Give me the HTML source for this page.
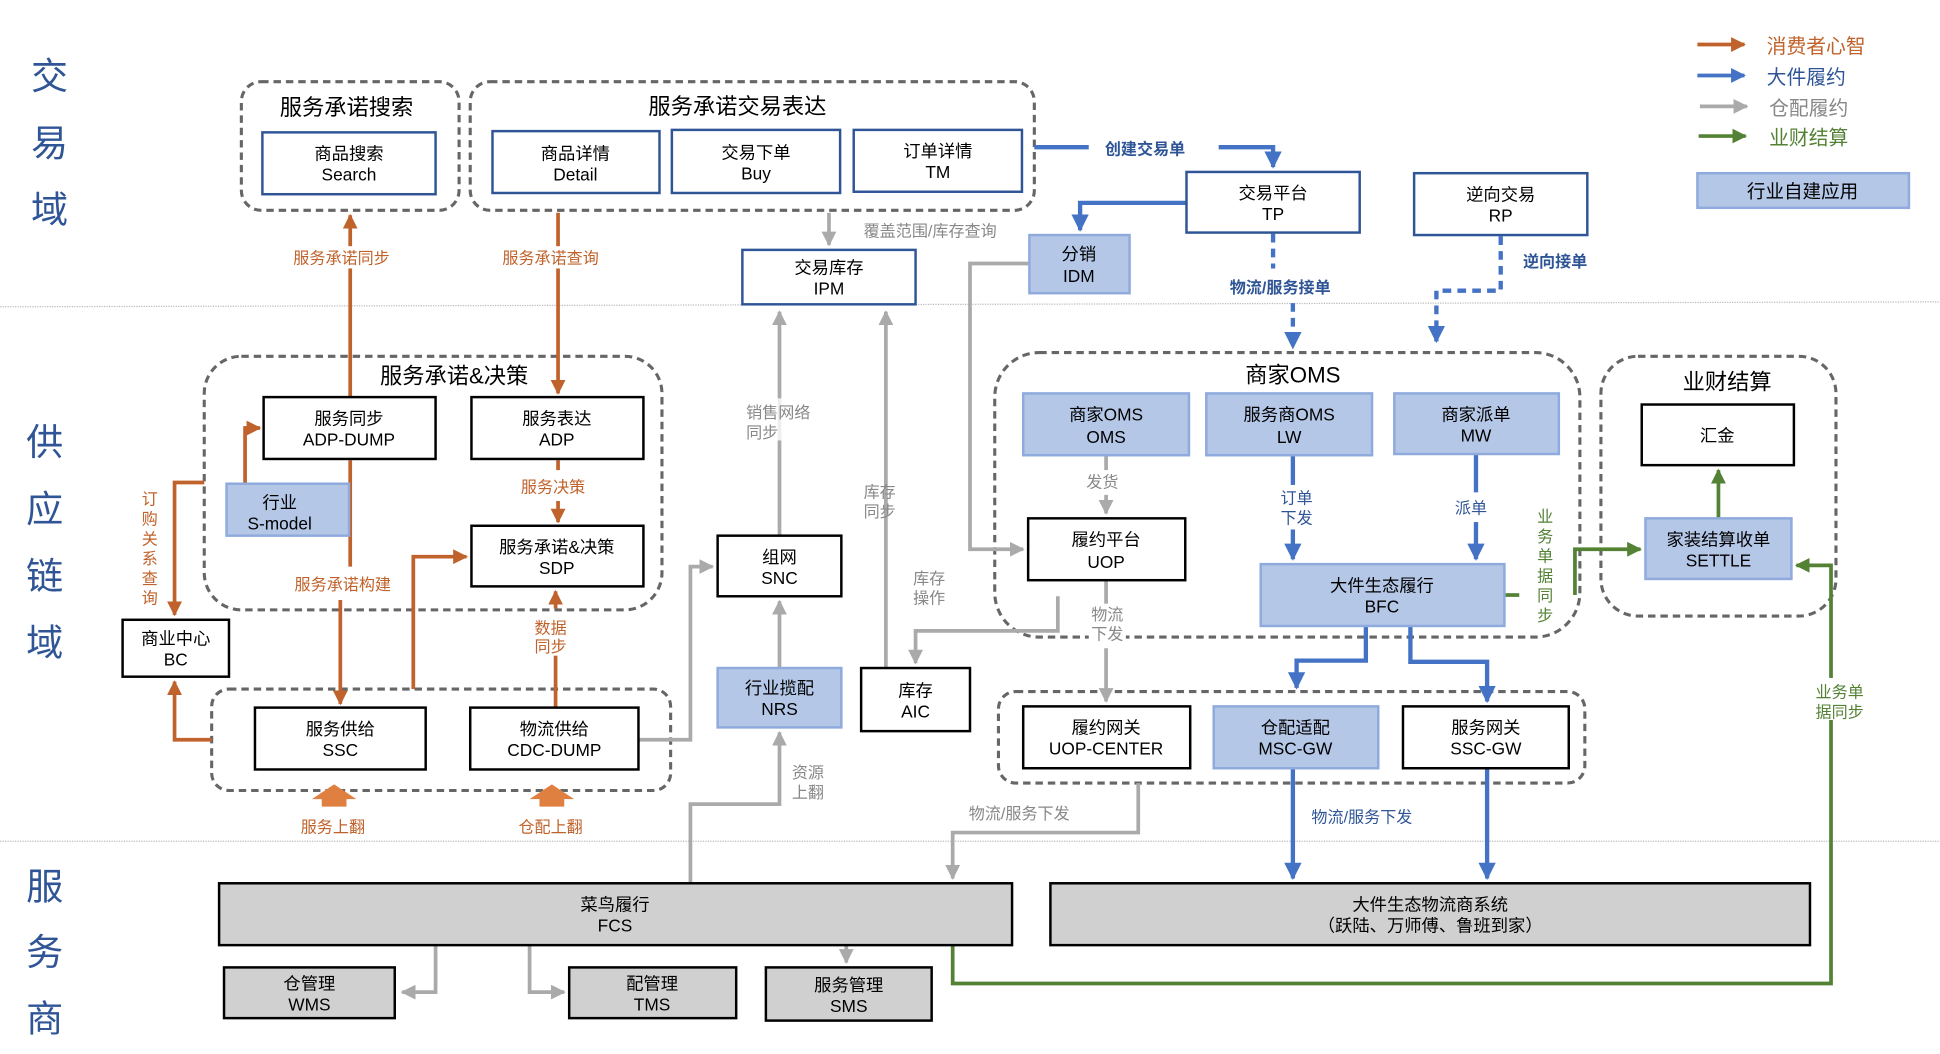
<!DOCTYPE html>
<html><head><meta charset="utf-8"><style>
html,body{margin:0;padding:0;background:#fff;}
svg{display:block;}
text{font-family:"Liberation Sans","Noto Sans CJK SC",sans-serif;}
</style></head><body>
<svg width="1940" height="1054" viewBox="0 0 1568 852" xmlns="http://www.w3.org/2000/svg">
<defs>
<marker id="ao" viewBox="0 0 10 10" refX="9" refY="5" markerWidth="4" markerHeight="4" orient="auto"><path d="M0,0L10,5L0,10z" fill="#c0622b"/></marker>
<marker id="ab" viewBox="0 0 10 10" refX="9" refY="5" markerWidth="4" markerHeight="4" orient="auto"><path d="M0,0L10,5L0,10z" fill="#4472c4"/></marker>
<marker id="ag" viewBox="0 0 10 10" refX="9" refY="5" markerWidth="4" markerHeight="4" orient="auto"><path d="M0,0L10,5L0,10z" fill="#aaaaaa"/></marker>
<marker id="aG" viewBox="0 0 10 10" refX="9" refY="5" markerWidth="4" markerHeight="4" orient="auto"><path d="M0,0L10,5L0,10z" fill="#548235"/></marker>
</defs>
<rect width="1568" height="852" fill="#fff"/>
<!-- separators -->
<line x1="0" y1="248" x2="1568" y2="244" stroke="#bbb" stroke-width="1" stroke-dasharray="1,1"/>
<line x1="0" y1="680" x2="1568" y2="680" stroke="#bbb" stroke-width="1" stroke-dasharray="1,1"/>
<!-- domain labels -->
<g fill="#2f5597" font-size="30" text-anchor="middle">
<text x="40" y="72">交</text><text x="40" y="126">易</text><text x="40" y="180">域</text>
<text x="36" y="368">供</text><text x="36" y="422">应</text><text x="36" y="476">链</text><text x="36" y="530">域</text>
<text x="36" y="727">服</text><text x="36" y="780">务</text><text x="36" y="834">商</text>
</g>
<!-- legend -->
<g stroke-width="3">
<line x1="1372" y1="36" x2="1410" y2="36" stroke="#c0622b" marker-end="url(#ao)"/>
<line x1="1372" y1="61" x2="1410" y2="61" stroke="#4472c4" marker-end="url(#ab)"/>
<line x1="1374" y1="86" x2="1412" y2="86" stroke="#aaaaaa" marker-end="url(#ag)"/>
<line x1="1373" y1="110" x2="1411" y2="110" stroke="#548235" marker-end="url(#aG)"/>
</g>
<g font-size="16">
<text x="1428" y="43" fill="#c0622b">消费者心智</text>
<text x="1428" y="68" fill="#2f5597">大件履约</text>
<text x="1430" y="93" fill="#888">仓配履约</text>
<text x="1430" y="117" fill="#548235">业财结算</text>
</g>
<rect x="1372" y="140" width="171" height="28" fill="#b4c7e7" stroke="#8faadc" stroke-width="2"/>
<text x="1457" y="160" font-size="15" text-anchor="middle">行业自建应用</text>

<!-- dashed groups -->
<g fill="none" stroke="#666" stroke-width="2.5" stroke-dasharray="6,4">
<rect x="195" y="66" width="176" height="104" rx="16"/>
<rect x="380" y="66" width="456" height="104" rx="16"/>
<rect x="165" y="288" width="370" height="205" rx="30"/>
<rect x="171" y="557" width="371" height="82" rx="14"/>
<rect x="804" y="285" width="473" height="230" rx="36"/>
<rect x="807" y="559" width="474" height="74" rx="14"/>
<rect x="1294" y="288" width="190" height="210" rx="30"/>
</g>
<g font-size="18" text-anchor="middle">
<text x="280" y="93">服务承诺搜索</text>
<text x="596" y="92">服务承诺交易表达</text>
<text x="367" y="310">服务承诺&amp;决策</text>
<text x="1045" y="309">商家OMS</text>
<text x="1396" y="315">业财结算</text>
</g>

<!-- connectors: orange -->
<g stroke="#c0622b" stroke-width="3" fill="none">
<polyline points="283,321 283,174" marker-end="url(#ao)"/>
<polyline points="451,172 451,318" marker-end="url(#ao)"/>
<polyline points="283,372 283,458"/>
<polyline points="275,485 275,569" marker-end="url(#ao)"/>
<polyline points="198,391 198,346 210,346" marker-end="url(#ao)"/>
<polyline points="165,390 141,390 141,497" marker-end="url(#ao)"/>
<polyline points="171,598 141,598 141,551" marker-end="url(#ao)"/>
<polyline points="334,557 334,450 377,450" marker-end="url(#ao)"/>
<polyline points="451,372 451,380"/>
<polyline points="451,405 451,422" marker-end="url(#ao)"/>
<polyline points="449,572 449,530"/>
<polyline points="449,492 449,478" marker-end="url(#ao)"/>
</g>
<g fill="#e08040">
<path d="M260,652h20v-6h8l-18,-12l-18,12h8z"/>
<path d="M436,652h20v-6h8l-18,-12l-18,12h8z"/>
</g>
<g fill="#c0622b" font-size="13" text-anchor="middle">
<rect x="232" y="199" width="90" height="18" fill="#fff"/>
<text x="276" y="213">服务承诺同步</text>
<rect x="400" y="199" width="90" height="18" fill="#fff"/>
<text x="445" y="213">服务承诺查询</text>
<text x="277" y="477">服务承诺构建</text>
<text x="447" y="398">服务决策</text>
<text x="445" y="512">数据</text><text x="445" y="527">同步</text>
<text x="269" y="673">服务上翻</text>
<text x="445" y="673">仓配上翻</text>
<text x="121" y="408">订</text><text x="121" y="424">购</text><text x="121" y="440">关</text><text x="121" y="456">系</text><text x="121" y="472">查</text><text x="121" y="488">询</text>
</g>

<!-- gray -->
<g stroke="#aaaaaa" stroke-width="3" fill="none">
<polyline points="516,598 558,598 558,458 576,458" marker-end="url(#ag)"/>
<polyline points="630,433 630,252" marker-end="url(#ag)"/>
<polyline points="630,540 630,486" marker-end="url(#ag)"/>
<polyline points="558,714 558,650 630,650 630,592" marker-end="url(#ag)"/>
<polyline points="716,540 716,252" marker-end="url(#ag)"/>
<polyline points="670,172 670,198" marker-end="url(#ag)"/>
<polyline points="832,213 784,213 784,444 827,444" marker-end="url(#ag)"/>
<polyline points="855,482 855,510 740,510 740,536" marker-end="url(#ag)"/>
<polyline points="894,368 894,380"/>
<polyline points="894,400 894,415" marker-end="url(#ag)"/>
<polyline points="894,470 894,567" marker-end="url(#ag)"/>
<polyline points="920,633 920,673 770,673 770,710" marker-end="url(#ag)"/>
<polyline points="352,764 352,802 325,802" marker-end="url(#ag)"/>
<polyline points="428,764 428,802 456,802" marker-end="url(#ag)"/>
<polyline points="684,764 684,778" marker-end="url(#ag)"/>
</g>
<g fill="#888" font-size="13">
<rect x="598" y="322" width="60" height="34" fill="#fff" opacity="0.8"/>
<text x="603" y="338">销售网络</text><text x="603" y="354">同步</text>
<text x="698" y="402">库存</text><text x="698" y="418">同步</text>
<text x="738" y="472">库存</text><text x="738" y="488">操作</text>
<text x="698" y="191">覆盖范围/库存查询</text>
<text x="640" y="629">资源</text><text x="640" y="645">上翻</text>
<rect x="876" y="382" width="30" height="16" fill="#fff"/>
<text x="878" y="394">发货</text>
<rect x="880" y="488" width="30" height="36" fill="#fff"/>
<text x="882" y="501">物流</text><text x="882" y="517">下发</text>
<text x="783" y="662">物流/服务下发</text>
</g>

<!-- blue -->
<g stroke="#4472c4" stroke-width="3.5" fill="none">
<polyline points="836,119 880,119"/>
<polyline points="985,119 1029,119 1029,135" marker-end="url(#ab)"/>
<polyline points="959,164 873,164 873,186" marker-end="url(#ab)"/>
<polyline points="1029,189 1029,217" stroke-dasharray="7,5"/>
<polyline points="1045,245 1045,281" stroke-dasharray="7,5" marker-end="url(#ab)"/>
<polyline points="1213,191 1213,235 1161,235 1161,276" stroke-dasharray="7,5" marker-end="url(#ab)"/>
<polyline points="1045,368 1045,392"/>
<polyline points="1045,428 1045,452" marker-end="url(#ab)"/>
<polyline points="1193,367 1193,398"/>
<polyline points="1193,422 1193,452" marker-end="url(#ab)"/>
<polyline points="1104,506 1104,534 1048,534 1048,556" marker-end="url(#ab)"/>
<polyline points="1140,506 1140,535 1202,535 1202,567" marker-end="url(#ab)"/>
<polyline points="1045,621 1045,710" marker-end="url(#ab)"/>
<polyline points="1202,621 1202,710" marker-end="url(#ab)"/>
</g>
<g fill="#2f5597" font-size="13" font-weight="bold">
<text x="893" y="125">创建交易单</text>
<text x="994" y="237">物流/服务接单</text>
<text x="1231" y="216">逆向接单</text>
</g>
<g fill="#2f5597" font-size="13">
<text x="1035" y="407">订单</text><text x="1035" y="423">下发</text>
<text x="1176" y="415">派单</text>
<text x="1060" y="665">物流/服务下发</text>
</g>

<!-- green -->
<g stroke="#548235" stroke-width="3" fill="none">
<polyline points="1216,481 1228,481"/>
<polyline points="1273,481 1273,444 1326,444" marker-end="url(#aG)"/>
<polyline points="1389,419 1389,380" marker-end="url(#aG)"/>
<polyline points="770,764 770,795 1480,795 1480,457 1452,457" marker-end="url(#aG)"/>
</g>
<g fill="#548235" font-size="13" text-anchor="middle">
<text x="1249" y="422">业</text><text x="1249" y="438">务</text><text x="1249" y="454">单</text><text x="1249" y="470">据</text><text x="1249" y="486">同</text><text x="1249" y="502">步</text>
<rect x="1462" y="548" width="50" height="34" fill="#fff"/>
<text x="1487" y="564">业务单</text><text x="1487" y="580">据同步</text>
</g>

<!-- boxes -->
<g font-size="14" text-anchor="middle">
<!-- trade domain, dark blue border -->
<g fill="#fff" stroke="#2f5597" stroke-width="2">
<rect x="212" y="107" width="140" height="50"/>
<rect x="398" y="106" width="135" height="50"/>
<rect x="543" y="105" width="136" height="51"/>
<rect x="690" y="105" width="136" height="50"/>
<rect x="600" y="202" width="140" height="44"/>
<rect x="959" y="139" width="140" height="49"/>
<rect x="1143" y="140" width="140" height="50"/>
</g>
<text x="282" y="129">商品搜索</text><text x="282" y="146">Search</text>
<text x="465" y="129">商品详情</text><text x="465" y="146">Detail</text>
<text x="611" y="128">交易下单</text><text x="611" y="145">Buy</text>
<text x="758" y="127">订单详情</text><text x="758" y="144">TM</text>
<text x="670" y="221">交易库存</text><text x="670" y="238">IPM</text>
<text x="1029" y="161">交易平台</text><text x="1029" y="178">TP</text>
<text x="1213" y="162">逆向交易</text><text x="1213" y="179">RP</text>

<!-- black boxes -->
<g fill="#fff" stroke="#000" stroke-width="2">
<rect x="213" y="321" width="139" height="50"/>
<rect x="381" y="321" width="139" height="50"/>
<rect x="381" y="425" width="139" height="49"/>
<rect x="99" y="501" width="86" height="46"/>
<rect x="206" y="572" width="138" height="50"/>
<rect x="380" y="572" width="136" height="50"/>
<rect x="580" y="433" width="100" height="49"/>
<rect x="696" y="540" width="88" height="51"/>
<rect x="831" y="419" width="127" height="50"/>
<rect x="827" y="571" width="135" height="50"/>
<rect x="1134" y="571" width="134" height="50"/>
<rect x="1327" y="327" width="123" height="49"/>
</g>
<text x="282" y="343">服务同步</text><text x="282" y="360">ADP-DUMP</text>
<text x="450" y="343">服务表达</text><text x="450" y="360">ADP</text>
<text x="450" y="447">服务承诺&amp;决策</text><text x="450" y="464">SDP</text>
<text x="142" y="521">商业中心</text><text x="142" y="538">BC</text>
<text x="275" y="594">服务供给</text><text x="275" y="611">SSC</text>
<text x="448" y="594">物流供给</text><text x="448" y="611">CDC-DUMP</text>
<text x="630" y="455">组网</text><text x="630" y="472">SNC</text>
<text x="740" y="563">库存</text><text x="740" y="580">AIC</text>
<text x="894" y="441">履约平台</text><text x="894" y="459">UOP</text>
<text x="894" y="593">履约网关</text><text x="894" y="610">UOP-CENTER</text>
<text x="1201" y="593">服务网关</text><text x="1201" y="610">SSC-GW</text>
<text x="1388" y="357">汇金</text>

<!-- blue filled -->
<g fill="#b4c7e7" stroke="#8faadc" stroke-width="2">
<rect x="832" y="190" width="81" height="47"/>
<rect x="183" y="391" width="99" height="42"/>
<rect x="580" y="540" width="100" height="48"/>
<rect x="827" y="318" width="134" height="50"/>
<rect x="975" y="318" width="134" height="50"/>
<rect x="1127" y="318" width="133" height="49"/>
<rect x="1019" y="456" width="197" height="50"/>
<rect x="981" y="571" width="133" height="50"/>
<rect x="1330" y="419" width="118" height="49"/>
</g>
<text x="872" y="210">分销</text><text x="872" y="228">IDM</text>
<text x="226" y="411">行业</text><text x="226" y="428">S-model</text>
<text x="630" y="561">行业揽配</text><text x="630" y="578">NRS</text>
<text x="894" y="340">商家OMS</text><text x="894" y="358">OMS</text>
<text x="1042" y="340">服务商OMS</text><text x="1042" y="358">LW</text>
<text x="1193" y="340">商家派单</text><text x="1193" y="357">MW</text>
<text x="1117" y="478">大件生态履行</text><text x="1117" y="495">BFC</text>
<text x="1047" y="593">仓配适配</text><text x="1047" y="610">MSC-GW</text>
<text x="1389" y="441">家装结算收单</text><text x="1389" y="458">SETTLE</text>

<!-- gray boxes -->
<g fill="#d0d0d0" stroke="#000" stroke-width="2">
<rect x="177" y="714" width="641" height="50"/>
<rect x="849" y="714" width="614" height="50"/>
<rect x="181" y="782" width="138" height="41"/>
<rect x="460" y="782" width="135" height="41"/>
<rect x="619" y="782" width="134" height="43"/>
</g>
<text x="497" y="736">菜鸟履行</text><text x="497" y="753">FCS</text>
<text x="1156" y="736">大件生态物流商系统</text><text x="1156" y="753">（跃陆、万师傅、鲁班到家）</text>
<text x="250" y="800">仓管理</text><text x="250" y="817">WMS</text>
<text x="527" y="800">配管理</text><text x="527" y="817">TMS</text>
<text x="686" y="801">服务管理</text><text x="686" y="818">SMS</text>
</g>
</svg>
</body></html>
